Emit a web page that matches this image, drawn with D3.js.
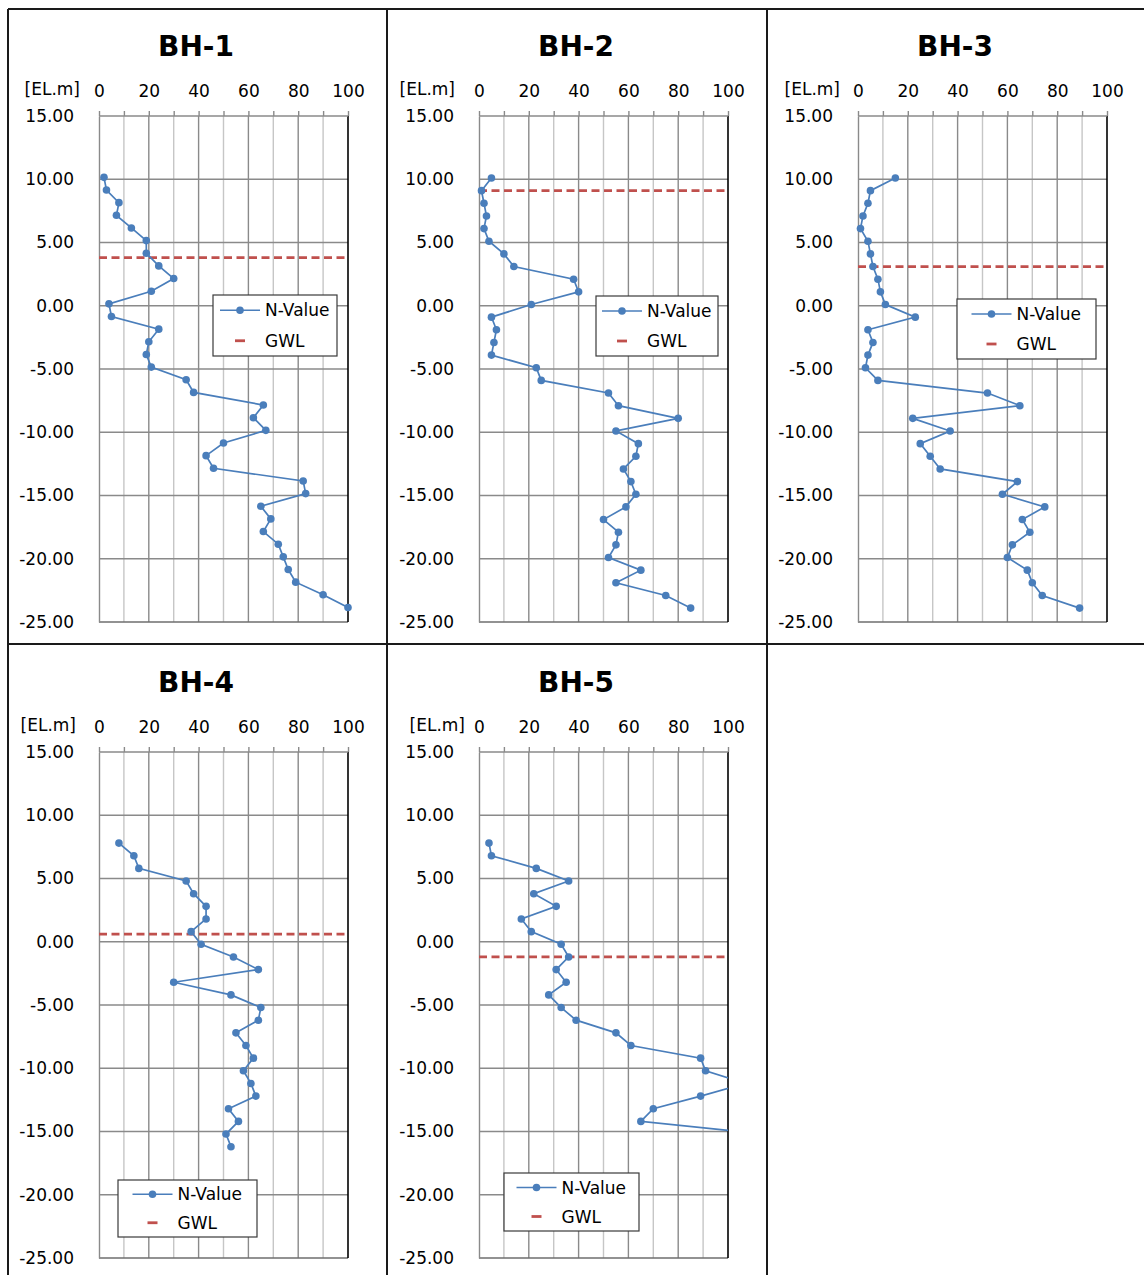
<!DOCTYPE html>
<html>
<head>
<meta charset="utf-8">
<script src="https://cdn.jsdelivr.net/npm/d3@7"></script>
<style>
  body { margin: 0; background: #fff; }
  text { font-family: "DejaVu Sans", Verdana, sans-serif; }
</style>
</head>
<body>
<svg id="chart" width="1144" height="1275"></svg>
<script>
// N-values, one per metre of depth
var bh1Elev = [10.15, 9.15, 8.15, 7.15, 6.15, 5.15, 4.15, 3.15, 2.15, 1.15, 0.15, -0.85, -1.85, -2.85, -3.85, -4.85, -5.85, -6.85, -7.85, -8.85, -9.85, -10.85, -11.85, -12.85, -13.85, -14.85, -15.85, -16.85, -17.85, -18.85, -19.85, -20.85, -21.85, -22.85, -23.85];
var bh1N = [2, 3, 8, 7, 13, 19, 19, 24, 30, 21, 4, 5, 24, 20, 19, 21, 35, 38, 66, 62, 67, 50, 43, 46, 82, 83, 65, 69, 66, 72, 74, 76, 79, 90, 100];

var bh2Elev = [10.1, 9.1, 8.1, 7.1, 6.1, 5.1, 4.1, 3.1, 2.1, 1.1, 0.1, -0.9, -1.9, -2.9, -3.9, -4.9, -5.9, -6.9, -7.9, -8.9, -9.9, -10.9, -11.9, -12.9, -13.9, -14.9, -15.9, -16.9, -17.9, -18.9, -19.9, -20.9, -21.9, -22.9, -23.9];
var bh2N = [5, 1, 2, 3, 2, 4, 10, 14, 38, 40, 21, 5, 7, 6, 5, 23, 25, 52, 56, 80, 55, 64, 63, 58, 61, 63, 59, 50, 56, 55, 52, 65, 55, 75, 85];

var bh3Elev = [10.1, 9.1, 8.1, 7.1, 6.1, 5.1, 4.1, 3.1, 2.1, 1.1, 0.1, -0.9, -1.9, -2.9, -3.9, -4.9, -5.9, -6.9, -7.9, -8.9, -9.9, -10.9, -11.9, -12.9, -13.9, -14.9, -15.9, -16.9, -17.9, -18.9, -19.9, -20.9, -21.9, -22.9, -23.9];
var bh3N = [15, 5, 4, 2, 1, 4, 5, 6, 8, 9, 11, 23, 4, 6, 4, 3, 8, 52, 65, 22, 37, 25, 29, 33, 64, 58, 75, 66, 69, 62, 60, 68, 70, 74, 89];

var bh4Elev = [7.8, 6.8, 5.8, 4.8, 3.8, 2.8, 1.8, 0.8, -0.2, -1.2, -2.2, -3.2, -4.2, -5.2, -6.2, -7.2, -8.2, -9.2, -10.2, -11.2, -12.2, -13.2, -14.2, -15.2, -16.2];
var bh4N = [8, 14, 16, 35, 38, 43, 43, 37, 41, 54, 64, 30, 53, 65, 64, 55, 59, 62, 58, 61, 63, 52, 56, 51, 53];

var bh5Elev = [7.8, 6.8, 5.8, 4.8, 3.8, 2.8, 1.8, 0.8, -0.2, -1.2, -2.2, -3.2, -4.2, -5.2, -6.2, -7.2, -8.2, -9.2, -10.2, -11.2, -12.2, -13.2, -14.2, -15.2];
var bh5N = [4, 5, 23, 36, 22, 31, 17, 21, 33, 36, 31, 35, 28, 33, 39, 55, 61, 89, 91, 107, 89, 70, 65, 114];

var names = ["BH-1", "BH-2", "BH-3", "BH-4", "BH-5"];
var gwl = [3.8, 9.1, 3.1, 0.6, -1.2];
var elevs = [bh1Elev, bh2Elev, bh3Elev, bh4Elev, bh5Elev];
var nvals = [bh1N, bh2N, bh3N, bh4N, bh5N];

var xTicks = [0, 10, 20, 30, 40, 50, 60, 70, 80, 90, 100];
var yTicks = [15, 10, 5, 0, -5, -10, -15, -20, -25];

// layout: panel offsets and legend boxes (in BH-1 coordinates)
var panelPos = [[0, 0], [380, 0], [759, 0], [0, 636], [380, 636]];
var legendBox = [[213, 295, 124, 61], [216, 296, 122, 60], [198, 299, 139, 60], [118, 544, 139, 57], [124, 537, 135, 58]];
var elLabelRight = [80, 75, 81, 76, 85];

var blue = "#4a7ebb";
var red = "#c0504d";

var svg = d3.select("#chart");

var x = d3.scaleLinear().domain([0, 100]).range([99, 348]);
var y = d3.scaleLinear().domain([15, -25]).range([116, 622]);
var fmt = d3.format(".2f");

// frame lines between panels
var frame = svg.append("g").attr("stroke", "#1a1a1a").attr("stroke-width", 2);
frame.append("line").attr("x1", 8).attr("x2", 1144).attr("y1", 9).attr("y2", 9);
frame.append("line").attr("x1", 8).attr("x2", 1144).attr("y1", 644).attr("y2", 644);
frame.append("line").attr("x1", 8).attr("x2", 8).attr("y1", 9).attr("y2", 1275);
frame.append("line").attr("x1", 387).attr("x2", 387).attr("y1", 9).attr("y2", 1275);
frame.append("line").attr("x1", 767).attr("x2", 767).attr("y1", 9).attr("y2", 1275);

var line = d3.line()
    .x(function (d) { return x(d[1]); })
    .y(function (d) { return y(d[0]); });

names.forEach(function (name, i) {
    var g = svg.append("g")
        .attr("transform", "translate(" + panelPos[i][0] + "," + panelPos[i][1] + ")");

    g.append("clipPath").attr("id", "clip" + i)
        .append("rect").attr("x", 99).attr("y", 116).attr("width", 249).attr("height", 506);
    g.append("clipPath").attr("id", "clipm" + i)
        .append("rect").attr("x", 94).attr("y", 111).attr("width", 259).attr("height", 516);

    // grid
    g.selectAll(".vgrid")
        .data(xTicks.slice(1, -1))
        .enter().append("line")
        .attr("x1", function (d) { return x(d); })
        .attr("x2", function (d) { return x(d); })
        .attr("y1", y(15)).attr("y2", y(-25))
        .attr("stroke", function (d) { return d % 20 === 0 ? "#8a8a8a" : "#c6c6c6"; })
        .attr("stroke-width", 1.4);

    g.selectAll(".hgrid")
        .data(yTicks.slice(1, -1))
        .enter().append("line")
        .attr("x1", x(0)).attr("x2", x(100))
        .attr("y1", function (d) { return y(d); })
        .attr("y2", function (d) { return y(d); })
        .attr("stroke", "#8a8a8a")
        .attr("stroke-width", 1.4);

    // bottom and right edges
    g.append("line").attr("x1", x(0)).attr("x2", x(100)).attr("y1", y(-25)).attr("y2", y(-25))
        .attr("stroke", "#6e6e6e").attr("stroke-width", 1.6);
    g.append("line").attr("x1", x(100)).attr("x2", x(100)).attr("y1", y(15)).attr("y2", y(-25))
        .attr("stroke", "#000").attr("stroke-width", 1.6);

    // axes
    var xAxis = g.append("g")
        .attr("transform", "translate(0," + y(15) + ")")
        .call(d3.axisTop(x).tickValues(xTicks).tickSize(5).tickPadding(14)
            .tickFormat(function (d) { return d % 20 === 0 ? d : ""; }));
    xAxis.selectAll("path, line").attr("stroke", "#8a8a8a").attr("stroke-width", 1.4);
    xAxis.select(".domain").attr("d", "M" + x(0) + ",0H" + x(100));
    xAxis.selectAll("text").attr("fill", "#000").style("font-size", "17px")
        .style("font-family", "'DejaVu Sans', Verdana, sans-serif");

    var yAxis = g.append("g")
        .attr("transform", "translate(" + x(0) + ",0)")
        .call(d3.axisLeft(y).tickValues(yTicks).tickSize(0).tickPadding(25)
            .tickFormat(function (d) { return fmt(d).replace("\u2212", "-"); }));
    yAxis.select(".domain").attr("stroke", "#8a8a8a").attr("stroke-width", 1.4);
    yAxis.selectAll("text").attr("fill", "#000").style("font-size", "17px")
        .style("font-family", "'DejaVu Sans', Verdana, sans-serif");

    g.append("text")
        .attr("x", elLabelRight[i]).attr("y", 95)
        .attr("text-anchor", "end")
        .style("font-size", "17px")
        .text("[EL.m]");

    g.append("text")
        .attr("x", 196).attr("y", 56)
        .attr("text-anchor", "middle")
        .style("font-size", "28px").style("font-weight", "bold")
        .text(name);

    var plot = g.append("g").attr("clip-path", "url(#clip" + i + ")");

    plot.append("line")
        .attr("x1", x(0)).attr("x2", x(100))
        .attr("y1", y(gwl[i])).attr("y2", y(gwl[i]))
        .attr("stroke", red).attr("stroke-width", 2.8)
        .attr("stroke-dasharray", "8,4.5");

    var pts = d3.zip(elevs[i], nvals[i]);
    plot.append("path")
        .datum(pts)
        .attr("d", line)
        .attr("fill", "none")
        .attr("stroke", blue)
        .attr("stroke-width", 1.7);

    g.append("g").attr("clip-path", "url(#clipm" + i + ")")
        .selectAll(".pt")
        .data(pts.filter(function (d) { return d[1] <= 100; }))
        .enter().append("circle")
        .attr("cx", function (d) { return x(d[1]); })
        .attr("cy", function (d) { return y(d[0]); })
        .attr("r", 3.8)
        .attr("fill", blue);

    // legend
    var lb = legendBox[i];
    var lg = g.append("g");
    lg.append("rect")
        .attr("x", lb[0]).attr("y", lb[1]).attr("width", lb[2]).attr("height", lb[3])
        .attr("fill", "#fff").attr("stroke", "#3a3a3a").attr("stroke-width", 1.2);
    var sx = lb[0] + (lb[2] - 110) / 2;
    var r1 = lb[1] + lb[3] * 0.25;
    var r2 = lb[1] + lb[3] * 0.75;
    lg.append("line").attr("x1", sx).attr("x2", sx + 40).attr("y1", r1).attr("y2", r1)
        .attr("stroke", blue).attr("stroke-width", 1.7);
    lg.append("circle").attr("cx", sx + 20).attr("cy", r1).attr("r", 3.8).attr("fill", blue);
    lg.append("text").attr("x", sx + 45).attr("y", r1).attr("dy", "0.36em")
        .style("font-size", "17px").text("N-Value");
    lg.append("line").attr("x1", sx + 15).attr("x2", sx + 25).attr("y1", r2).attr("y2", r2)
        .attr("stroke", red).attr("stroke-width", 2.8);
    lg.append("text").attr("x", sx + 45).attr("y", r2).attr("dy", "0.36em")
        .style("font-size", "17px").text("GWL");
});
</script>
</body>
</html>
